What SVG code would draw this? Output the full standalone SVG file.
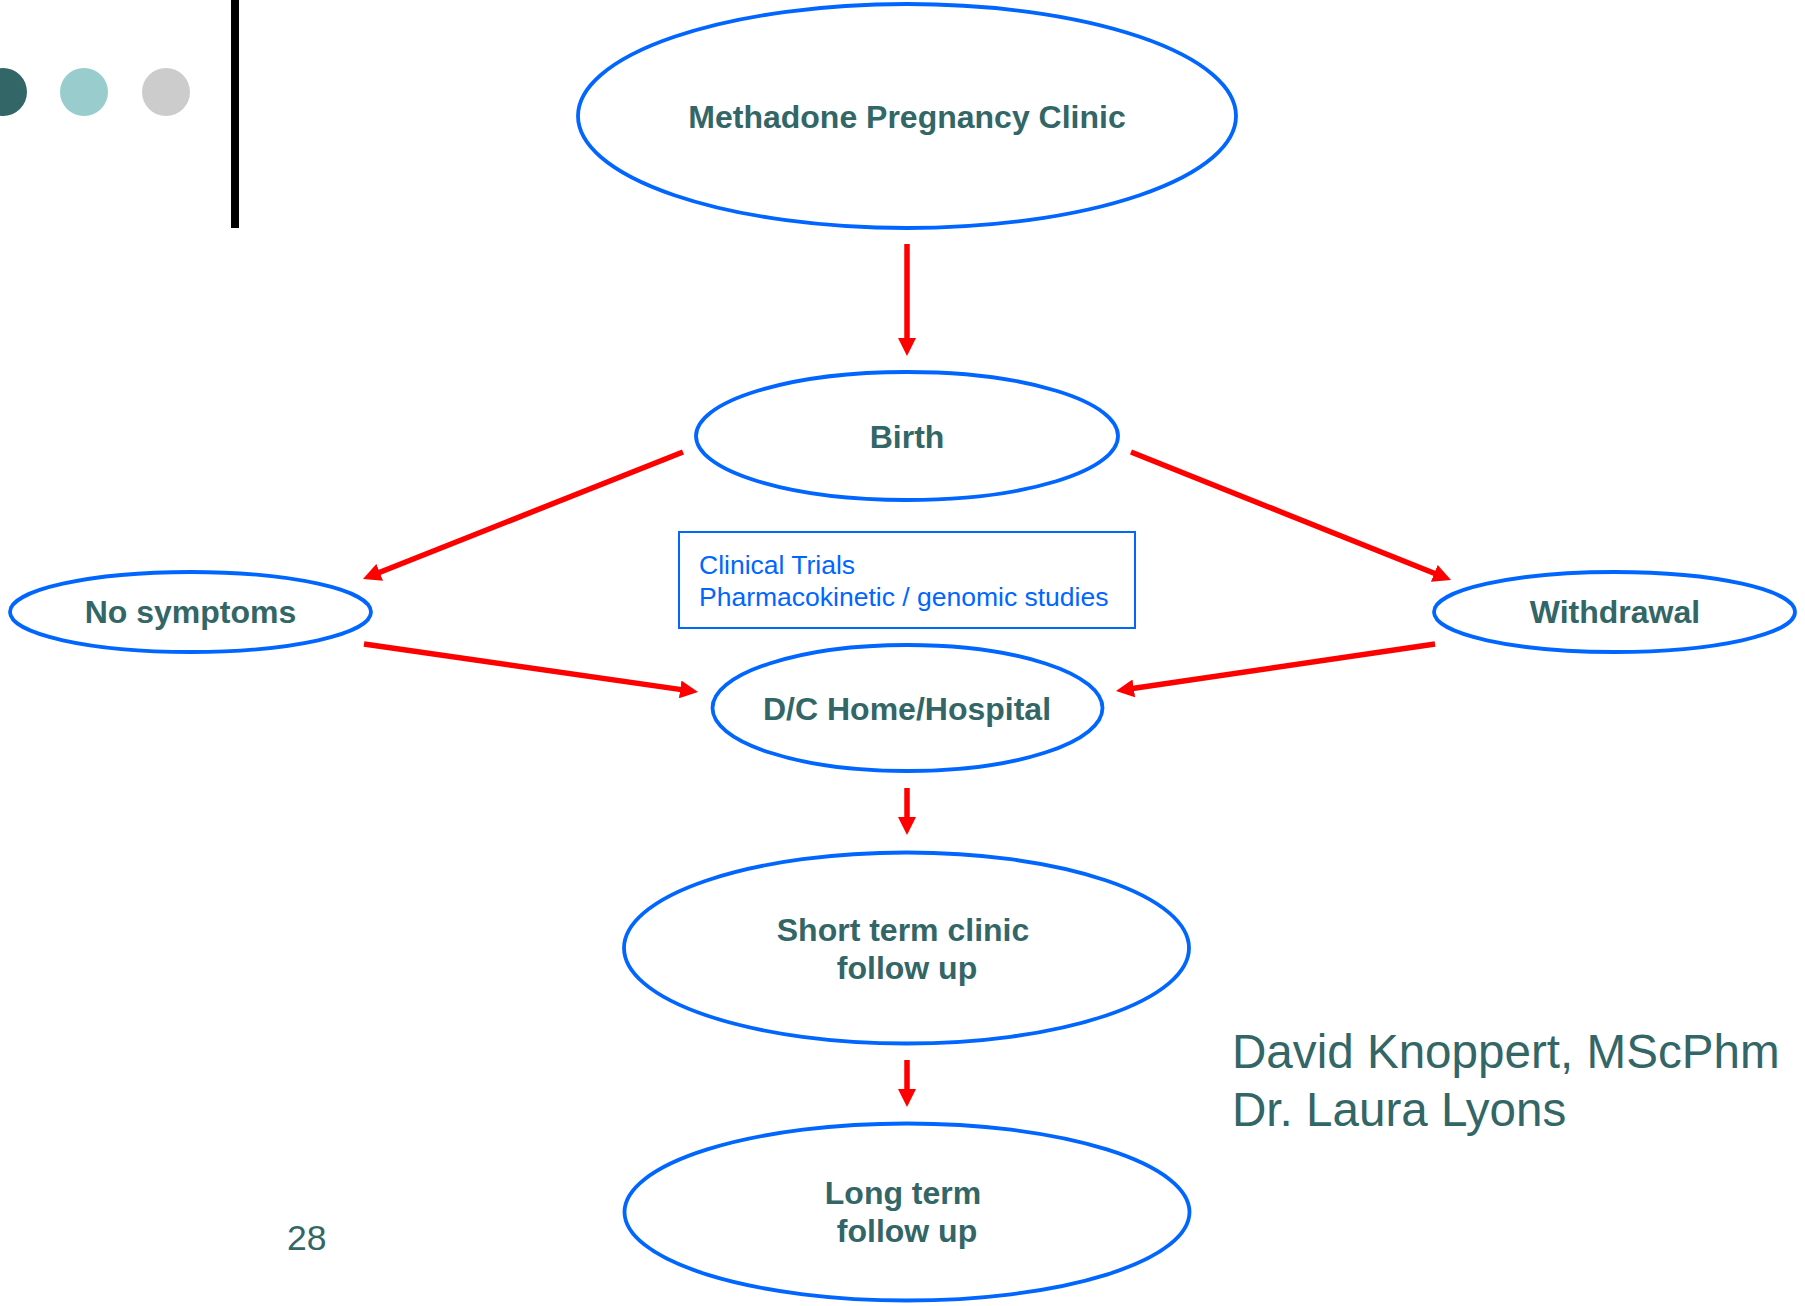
<svg xmlns="http://www.w3.org/2000/svg" width="1805" height="1306" viewBox="0 0 1805 1306">
<style>
.node{fill:#fff;stroke:#0066ff;stroke-width:3.8}
.lbl{font-family:"Liberation Sans",Arial,sans-serif;font-weight:bold;font-size:32px;fill:#336666;text-anchor:middle}
.note{font-family:"Liberation Sans",Arial,sans-serif;font-size:26.5px;fill:#0066ff}
.auth{font-family:"Liberation Sans",Arial,sans-serif;font-size:47.6px;fill:#336666}
.conn{stroke:#ff0000;stroke-width:5.5;fill:none;marker-end:url(#ah)}
</style>
<defs>
<marker id="ah" viewBox="0 0 18 18" refX="10" refY="9" markerWidth="18" markerHeight="18" markerUnits="userSpaceOnUse" orient="auto">
<path d="M0,0 L18,9 L0,18 Z" fill="#ff0000"/>
</marker>
</defs>
<rect width="1805" height="1306" fill="#fff"/>
<g id="decor">
<circle cx="3" cy="92" r="24" fill="#336666"/>
<circle cx="84" cy="92" r="24" fill="#99cccc"/>
<circle cx="166" cy="92" r="24" fill="#cccccc"/>
<rect x="231" y="0" width="8" height="228" fill="#000"/>
</g>
<g id="connectors">
<line class="conn" x1="907" y1="244" x2="907" y2="348"/>
<line class="conn" x1="683" y1="452" x2="370.4" y2="576"/>
<line class="conn" x1="1131" y1="452" x2="1443.6" y2="577"/>
<line class="conn" x1="364" y1="644" x2="690.1" y2="690.9"/>
<line class="conn" x1="1435" y1="644" x2="1123.9" y2="689.8"/>
<line class="conn" x1="907" y1="788" x2="907" y2="827"/>
<line class="conn" x1="907" y1="1060" x2="907" y2="1099"/>
</g>
<g id="n-clinic">
<ellipse class="node" cx="907" cy="116" rx="329" ry="112"/>
<text class="lbl" x="907" y="128">Methadone Pregnancy Clinic</text>
</g>
<g id="n-birth">
<ellipse class="node" cx="907" cy="436" rx="211" ry="64"/>
<text class="lbl" x="907" y="448">Birth</text>
</g>
<g id="n-nosymptoms">
<ellipse class="node" cx="190.5" cy="612" rx="180.5" ry="40"/>
<text class="lbl" x="190.5" y="623">No symptoms</text>
</g>
<g id="n-withdrawal">
<ellipse class="node" cx="1614.5" cy="612" rx="180.5" ry="40"/>
<text class="lbl" x="1615" y="623">Withdrawal</text>
</g>
<g id="n-trials">
<rect x="679" y="532" width="456" height="96" fill="#fff" stroke="#0066ff" stroke-width="2"/>
<text class="note" x="699" y="574">Clinical Trials</text>
<text class="note" x="699" y="606">Pharmacokinetic / genomic studies</text>
</g>
<g id="n-dc">
<ellipse class="node" cx="907.5" cy="708" rx="195" ry="63"/>
<text class="lbl" x="907" y="720">D/C Home/Hospital</text>
</g>
<g id="n-short">
<ellipse class="node" cx="906.5" cy="948" rx="282.5" ry="95.5"/>
<text class="lbl" x="903" y="941">Short term clinic</text>
<text class="lbl" x="907" y="979">follow up</text>
</g>
<g id="n-long">
<ellipse class="node" cx="907" cy="1212" rx="282.5" ry="88.5"/>
<text class="lbl" x="903" y="1204">Long term</text>
<text class="lbl" x="907" y="1242">follow up</text>
</g>
<g id="authors">
<text class="auth" x="1232" y="1068">David Knoppert, MScPhm</text>
<text class="auth" x="1232" y="1126">Dr. Laura Lyons</text>
</g>
<text x="287" y="1250" font-family="'Liberation Sans',Arial,sans-serif" font-size="35.5" fill="#336666">28</text>
</svg>
